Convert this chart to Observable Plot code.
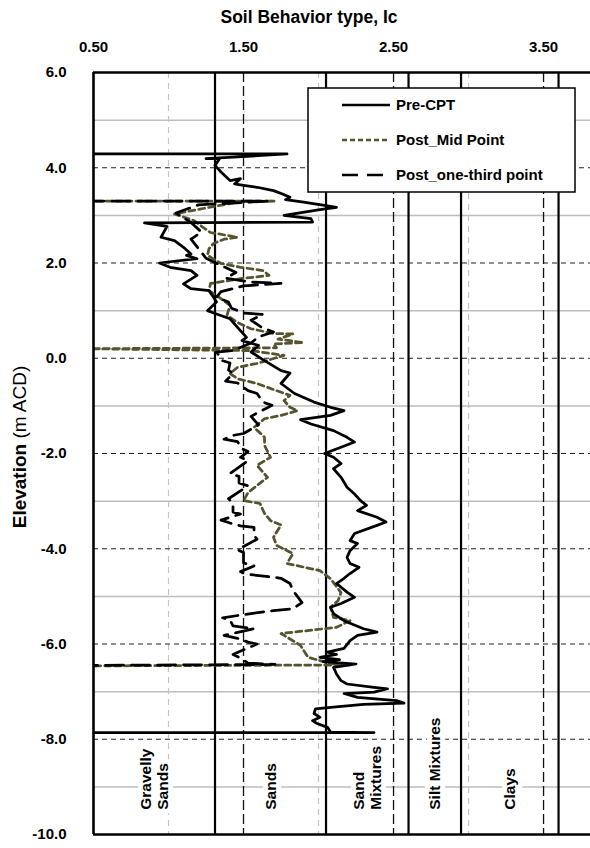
<!DOCTYPE html>
<html><head><meta charset="utf-8">
<script src="https://cdn.jsdelivr.net/npm/d3@7"></script>
<script src="https://cdn.jsdelivr.net/npm/@observablehq/plot@0.6"></script>
<style>body{margin:0;background:#fff;} svg{display:block;}</style>
</head><body><div id="chart"></div>
<script>
const FONT = '"Liberation Sans Narrow","Arial Narrow","Liberation Sans",Arial,sans-serif';

// ---- data ----
const titleText = "Soil Behavior type, Ic";
const xTicks = [0.5, 1.5, 2.5, 3.5];
const yTicks = [6, 4, 2, 0, -2, -4, -6, -8, -10];
const majorElev = [4, 2, 0, -2, -4, -6, -8];
const minorElev = [5, 3, 1, -1, -3, -5, -7, -9];
const majorIc = [1.5, 2.5, 3.5];
const minorIc = [1.0, 2.0, 3.0];
const zoneBounds = [0.5, 1.31, 2.05, 2.6, 2.95, 3.6];
const zoneNames = ["Gravelly\nSands", "Sands", "Sand\nMixtures", "Silt Mixtures", "Clays"];
const seriesNames = ["Pre-CPT", "Post_Mid Point", "Post_one-third point"];

const preCPT = [[0.45,4.29],[1.79,4.29],[1.25,4.19],[1.34,4.19],[1.31,4.05],[1.35,3.91],[1.41,3.73],[1.48,3.77],[1.44,3.66],[1.50,3.63],[1.59,3.59],[1.70,3.52],[1.76,3.45],[1.81,3.38],[1.78,3.33],[1.90,3.28],[2.04,3.21],[2.12,3.17],[2.01,3.12],[1.77,3.00],[1.95,2.93],[1.96,2.86],[0.84,2.84],[0.99,2.77],[0.95,2.54],[1.04,2.47],[1.10,2.33],[1.15,2.19],[1.12,2.16],[1.19,2.09],[0.94,2.00],[1.01,1.91],[1.15,1.84],[1.19,1.74],[1.10,1.56],[1.15,1.46],[1.27,1.42],[1.30,1.28],[1.32,1.18],[1.26,1.00],[1.32,0.93],[1.41,0.83],[1.46,0.65],[1.52,0.44],[1.49,0.37],[1.60,0.27],[1.55,0.13],[1.64,-0.05],[1.75,-0.26],[1.81,-0.31],[1.75,-0.53],[1.84,-0.74],[1.97,-0.92],[2.08,-1.03],[2.17,-1.10],[2.08,-1.20],[1.88,-1.29],[1.95,-1.38],[2.10,-1.52],[2.19,-1.66],[2.24,-1.76],[2.15,-1.87],[2.04,-2.00],[2.10,-2.08],[2.15,-2.21],[2.10,-2.32],[2.15,-2.50],[2.19,-2.71],[2.24,-2.85],[2.28,-2.99],[2.32,-3.09],[2.26,-3.20],[2.39,-3.34],[2.45,-3.44],[2.39,-3.51],[2.24,-3.68],[2.21,-3.83],[2.26,-3.89],[2.21,-4.04],[2.19,-4.18],[2.21,-4.31],[2.27,-4.39],[2.21,-4.52],[2.17,-4.62],[2.12,-4.73],[2.19,-4.91],[2.24,-5.02],[2.15,-5.15],[2.08,-5.23],[2.10,-5.36],[2.17,-5.51],[2.30,-5.68],[2.39,-5.75],[2.26,-5.82],[2.21,-5.93],[2.17,-6.09],[2.06,-6.17],[2.12,-6.22],[2.01,-6.28],[2.14,-6.33],[2.03,-6.37],[2.25,-6.42],[2.10,-6.49],[2.12,-6.63],[2.15,-6.77],[2.19,-6.84],[2.37,-6.91],[2.46,-6.94],[2.37,-7.01],[2.17,-7.04],[2.26,-7.12],[2.52,-7.19],[2.57,-7.24],[2.30,-7.27],[2.08,-7.33],[1.98,-7.36],[1.97,-7.46],[2.01,-7.54],[1.96,-7.61],[1.99,-7.67],[2.06,-7.75],[2.08,-7.85],[2.37,-7.86],[0.45,-7.86]];

const postMid = [[0.45,3.30],[1.71,3.30],[1.46,3.28],[1.04,3.03],[1.17,2.89],[1.23,2.75],[1.28,2.64],[1.46,2.54],[1.37,2.50],[1.30,2.41],[1.27,2.30],[1.26,2.16],[1.35,1.99],[1.48,1.91],[1.63,1.84],[1.67,1.74],[1.48,1.67],[1.28,1.57],[1.27,1.42],[1.35,1.25],[1.41,1.11],[1.39,0.90],[1.46,0.75],[1.55,0.62],[1.70,0.52],[1.83,0.51],[1.73,0.40],[1.90,0.33],[1.70,0.30],[1.72,0.22],[0.45,0.20],[1.55,0.16],[1.77,0.06],[1.59,-0.11],[1.46,-0.19],[1.41,-0.32],[1.46,-0.43],[1.59,-0.53],[1.72,-0.68],[1.81,-0.78],[1.77,-0.89],[1.81,-1.03],[1.86,-1.10],[1.75,-1.20],[1.64,-1.27],[1.57,-1.45],[1.64,-1.66],[1.64,-1.83],[1.68,-2.08],[1.59,-2.25],[1.66,-2.50],[1.53,-2.82],[1.50,-2.99],[1.61,-3.05],[1.64,-3.26],[1.68,-3.41],[1.75,-3.50],[1.70,-3.76],[1.72,-3.93],[1.83,-4.10],[1.79,-4.31],[2.01,-4.46],[2.08,-4.63],[2.15,-4.92],[2.13,-5.09],[2.08,-5.23],[2.10,-5.44],[2.21,-5.51],[2.12,-5.65],[1.75,-5.78],[1.88,-6.03],[1.93,-6.28],[2.08,-6.41],[2.21,-6.44],[0.45,-6.46]];

const postThird = [[0.45,3.30],[1.66,3.30],[1.20,3.22],[1.05,3.05],[1.15,2.85],[1.22,2.65],[1.15,2.50],[1.20,2.30],[1.25,2.10],[1.35,1.95],[1.45,1.80],[1.38,1.68],[1.55,1.60],[1.75,1.57],[1.50,1.52],[1.35,1.40],[1.32,1.28],[1.40,1.18],[1.42,1.05],[1.50,0.95],[1.63,0.92],[1.55,0.80],[1.62,0.65],[1.70,0.55],[1.60,0.45],[1.55,0.32],[1.43,0.16],[1.32,0.13],[1.36,-0.05],[1.41,-0.10],[1.40,-0.25],[1.43,-0.32],[1.38,-0.48],[1.46,-0.52],[1.53,-0.68],[1.59,-0.74],[1.63,-0.92],[1.69,-0.99],[1.59,-1.15],[1.55,-1.22],[1.60,-1.40],[1.50,-1.58],[1.43,-1.62],[1.37,-1.70],[1.46,-1.75],[1.49,-1.90],[1.53,-1.96],[1.48,-2.08],[1.53,-2.15],[1.41,-2.42],[1.47,-2.48],[1.47,-2.62],[1.53,-2.68],[1.40,-2.95],[1.43,-3.05],[1.43,-3.23],[1.48,-3.27],[1.35,-3.40],[1.41,-3.46],[1.48,-3.52],[1.57,-3.55],[1.57,-3.72],[1.59,-3.80],[1.46,-4.02],[1.50,-4.08],[1.50,-4.30],[1.57,-4.36],[1.48,-4.48],[1.51,-4.53],[1.65,-4.58],[1.75,-4.62],[1.81,-4.73],[1.83,-4.88],[1.89,-5.13],[1.83,-5.26],[1.70,-5.30],[1.55,-5.36],[1.36,-5.45],[1.41,-5.50],[1.43,-5.62],[1.57,-5.68],[1.37,-5.82],[1.46,-5.88],[1.53,-5.96],[1.59,-6.00],[1.43,-6.22],[1.47,-6.28],[1.53,-6.40],[1.71,-6.43],[0.45,-6.45]];

// ---- styles ----
const OLIVE = "#58532f";
const seriesStyle = [
  {color: "black", width: 2.75, dash: null, legendDash: null},
  {color: OLIVE, width: 2.75, dash: "6,4", legendDash: "5,3"},
  {color: "black", width: 2.75, dash: "18,8", legendDash: "16,9"}
];
const zones = zoneNames.map((name, i) => ({name, lo: zoneBounds[i], hi: zoneBounds[i + 1]}));
const zoneLabelElev = -9.48;

const chart = Plot.plot({
  width: 590, height: 848,
  marginLeft: 93, marginTop: 72, marginRight: 0, marginBottom: 14,
  style: {fontFamily: FONT, background: "white", overflow: "visible"},
  x: {domain: [0.5, 3.813], axis: null},
  y: {domain: [-10, 6], axis: null},
  marks: [
    Plot.ruleY(minorElev, {stroke: "#bdbdbd", strokeWidth: 1.5}),
    Plot.ruleX(minorIc, {stroke: "#c4c4c4", strokeWidth: 1.2, strokeDasharray: "6,5"}),
    Plot.ruleY(majorElev, {stroke: "#222", strokeWidth: 1.1, strokeDasharray: "5,4"}),
    Plot.text(zones, {x: d => (d.lo + d.hi) / 2, y: () => zoneLabelElev, text: "name", rotate: -90,
      textAnchor: "start", lineAnchor: "middle", fontSize: 15.5, fontWeight: "bold",
      fill: "black", stroke: "white", strokeWidth: 10, lineHeight: 1.05}),
    Plot.ruleX(majorIc, {stroke: "#111", strokeWidth: 1.3, strokeDasharray: "10,4"}),
    Plot.ruleX(zoneBounds.slice(1), {stroke: "black", strokeWidth: 2.2}),
    Plot.line(postMid, {x: d => d[0], y: d => d[1], stroke: seriesStyle[1].color, strokeWidth: seriesStyle[1].width, strokeDasharray: seriesStyle[1].dash, clip: true}),
    Plot.line(postThird, {x: d => d[0], y: d => d[1], stroke: seriesStyle[2].color, strokeWidth: seriesStyle[2].width, strokeDasharray: seriesStyle[2].dash, clip: true}),
    Plot.line(preCPT, {x: d => d[0], y: d => d[1], stroke: seriesStyle[0].color, strokeWidth: seriesStyle[0].width, clip: true}),
    Plot.ruleX([0.5], {stroke: "black", strokeWidth: 2.6}),
    Plot.ruleY([6, -10], {stroke: "black", strokeWidth: 2.6}),
    Plot.axisX({anchor: "top", ticks: xTicks, tickFormat: d => d.toFixed(2), tickSize: 0, tickPadding: 21,
      fontSize: 15, fontWeight: "bold", label: null}),
    Plot.axisY({ticks: yTicks, tickFormat: d => d.toFixed(1), tickSize: 0, tickPadding: 27,
      fontSize: 15, fontWeight: "bold", label: null})
  ]
});
document.getElementById("chart").appendChild(chart);

const svg = d3.select(chart);
// Title
svg.append("text").attr("x", 309).attr("y", 23).attr("text-anchor", "middle")
  .attr("font-family", FONT).attr("font-size", 17.5).attr("font-weight", "bold").attr("fill", "black")
  .text(titleText);
// Y label
const yl = svg.append("text").attr("transform", "translate(26,447) rotate(-90)").attr("text-anchor", "middle")
  .attr("font-family", FONT).attr("font-size", 19).attr("fill", "black");
yl.append("tspan").attr("font-weight", "bold").text("Elevation");
yl.append("tspan").text(" (m ACD)");
// Legend
const lg = svg.append("g").attr("font-family", FONT).attr("font-size", 15).attr("font-weight", "bold")
  .attr("text-anchor", "start");
lg.append("rect").attr("x", 308).attr("y", 88).attr("width", 267).attr("height", 104)
  .attr("fill", "white").attr("stroke", "black").attr("stroke-width", 1.5);
seriesNames.forEach((name, i) => {
  const s = seriesStyle[i];
  const yy = 105 + i * 35;
  lg.append("line").attr("x1", 342).attr("x2", 390).attr("y1", yy).attr("y2", yy)
    .attr("stroke", s.color).attr("stroke-width", 2.5).attr("stroke-dasharray", s.legendDash);
  lg.append("text").attr("x", 396).attr("y", yy).attr("dy", "0.35em").attr("text-anchor", "start")
    .attr("fill", "black").text(name);
});
</script>
</body></html>
